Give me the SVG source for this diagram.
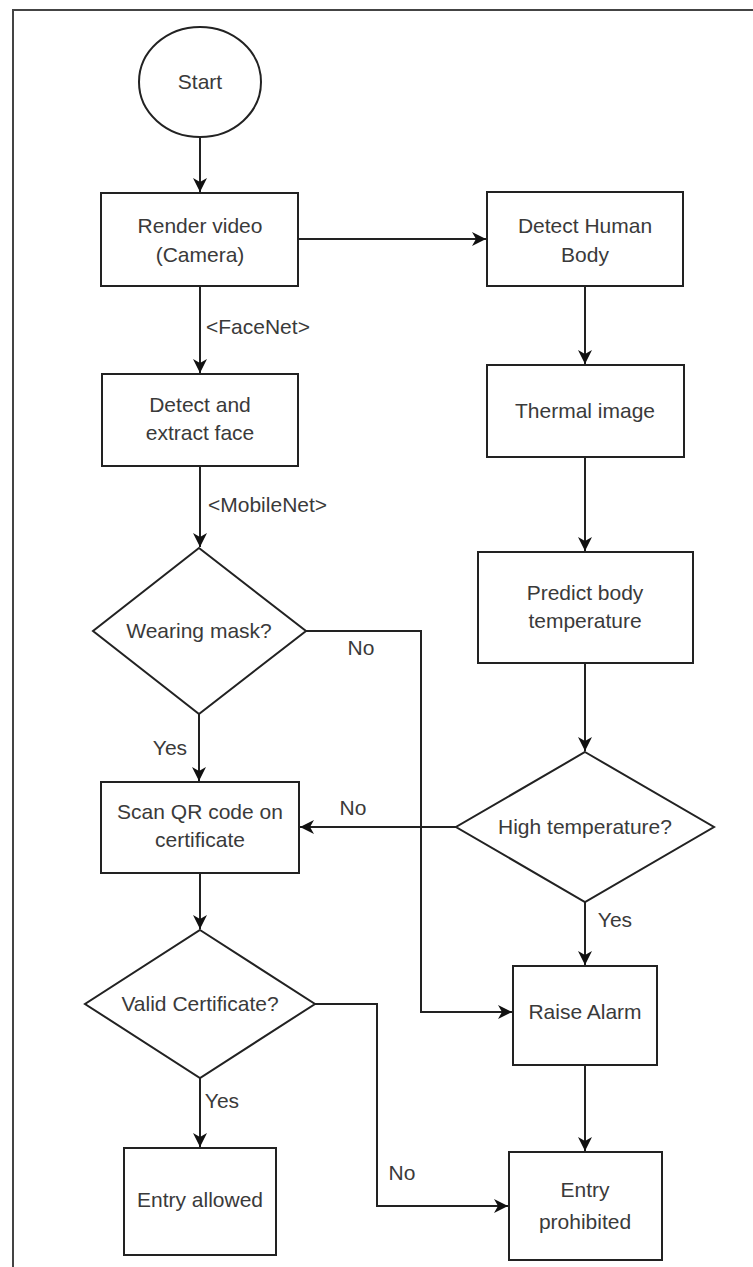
<svg xmlns="http://www.w3.org/2000/svg" width="753" height="1267" viewBox="0 0 753 1267">
<defs>
<style>
.shape{fill:#ffffff;stroke:#222222;stroke-width:2}
.t{font-family:"Liberation Sans",Arial,sans-serif;font-size:21px;fill:#3a3a3a;text-anchor:middle}
.l{font-family:"Liberation Sans",Arial,sans-serif;font-size:21px;fill:#3a3a3a}
.c{fill:none;stroke:#222222;stroke-width:2}
.a{marker-end:url(#arr)}
</style>
<marker id="arr" markerUnits="userSpaceOnUse" markerWidth="16" markerHeight="14" refX="14" refY="7" orient="auto">
<path d="M0,0 L14,7 L0,14 L4,7 Z" fill="#111111"/>
</marker>
</defs>
<rect x="0" y="0" width="753" height="1267" fill="#ffffff"/>
<rect x="13" y="10" width="760" height="1280" fill="none" stroke="#444444" stroke-width="2"/>

<g id="connectors">
<path class="c a" d="M200,137 L200,192"/>
<path class="c a" d="M298,239 L486,239"/>
<path class="c a" d="M200,286 L200,373"/>
<path class="c a" d="M200,466 L200,547"/>
<path class="c a" d="M199,714 L199,781"/>
<path class="c a" d="M306,631 L421,631 L421,1012 L512,1012"/>
<path class="c a" d="M585,286 L585,364"/>
<path class="c a" d="M585,457 L585,551"/>
<path class="c a" d="M585,663 L585,751"/>
<path class="c a" d="M456,827 L300,827"/>
<path class="c a" d="M585,902 L585,965"/>
<path class="c a" d="M200,873 L200,929"/>
<path class="c a" d="M315,1004 L377,1004 L377,1206 L508,1206"/>
<path class="c a" d="M200,1078 L200,1147"/>
<path class="c a" d="M585,1065 L585,1151"/>
<text class="l" x="206" y="334">&lt;FaceNet&gt;</text>
<text class="l" x="208" y="512">&lt;MobileNet&gt;</text>
<text class="t" x="361" y="655">No</text>
<text class="t" x="170" y="755">Yes</text>
<text class="t" x="353" y="815">No</text>
<text class="t" x="615" y="927">Yes</text>
<text class="t" x="222" y="1108">Yes</text>
<text class="t" x="402" y="1180">No</text>
</g>

<g id="start">
<ellipse class="shape" cx="200" cy="82" rx="61" ry="55"/>
<text class="t" x="200" y="89">Start</text>
</g>
<g id="render-video">
<rect class="shape" x="101" y="193" width="197" height="93"/>
<text class="t" x="200" y="233">Render video</text>
<text class="t" x="200" y="262">(Camera)</text>
</g>
<g id="detect-human-body">
<rect class="shape" x="487" y="192" width="196" height="94"/>
<text class="t" x="585" y="233">Detect Human</text>
<text class="t" x="585" y="262">Body</text>
</g>
<g id="detect-extract-face">
<rect class="shape" x="102" y="374" width="196" height="92"/>
<text class="t" x="200" y="412">Detect and</text>
<text class="t" x="200" y="440">extract face</text>
</g>
<g id="thermal-image">
<rect class="shape" x="487" y="365" width="197" height="92"/>
<text class="t" x="585" y="418">Thermal image</text>
</g>
<g id="predict-body-temperature">
<rect class="shape" x="478" y="552" width="215" height="111"/>
<text class="t" x="585" y="600">Predict body</text>
<text class="t" x="585" y="628">temperature</text>
</g>
<g id="wearing-mask">
<polygon class="shape" points="199,548 306,631 199,714 93,631"/>
<text class="t" x="199" y="638">Wearing mask?</text>
</g>
<g id="high-temperature">
<polygon class="shape" points="585,752 714,827 585,902 456,827"/>
<text class="t" x="585" y="834">High temperature?</text>
</g>
<g id="scan-qr">
<rect class="shape" x="101" y="782" width="198" height="91"/>
<text class="t" x="200" y="819">Scan QR code on</text>
<text class="t" x="200" y="847">certificate</text>
</g>
<g id="valid-certificate">
<polygon class="shape" points="200,930 315,1004 200,1078 85,1004"/>
<text class="t" x="200" y="1011">Valid Certificate?</text>
</g>
<g id="raise-alarm">
<rect class="shape" x="513" y="966" width="144" height="99"/>
<text class="t" x="585" y="1019">Raise Alarm</text>
</g>
<g id="entry-allowed">
<rect class="shape" x="124" y="1148" width="152" height="107"/>
<text class="t" x="200" y="1207">Entry allowed</text>
</g>
<g id="entry-prohibited">
<rect class="shape" x="509" y="1152" width="153" height="108"/>
<text class="t" x="585" y="1197">Entry</text>
<text class="t" x="585" y="1229">prohibited</text>
</g>
</svg>
